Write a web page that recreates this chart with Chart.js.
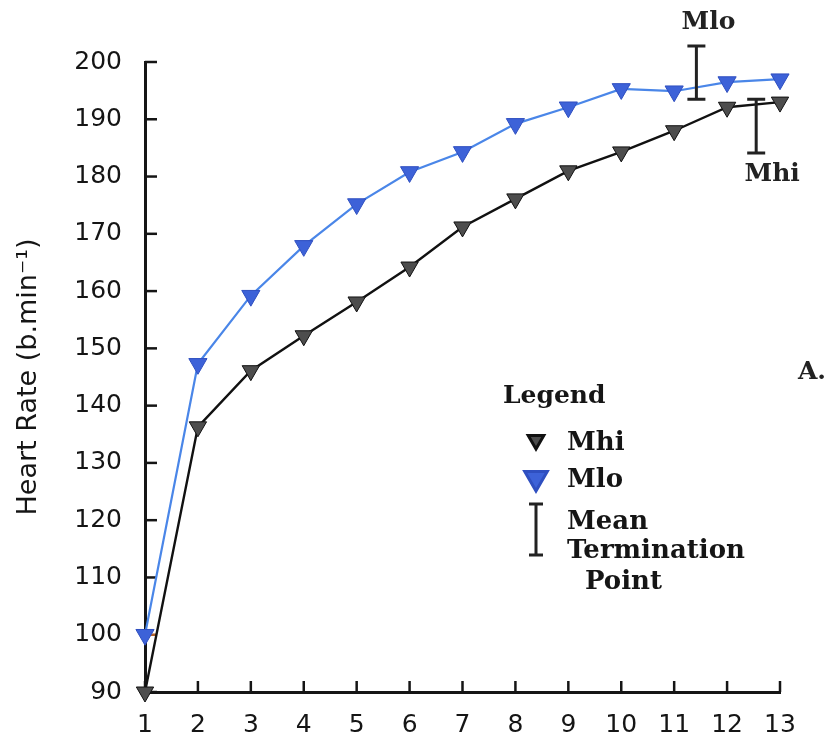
<!DOCTYPE html>
<html>
<head>
<meta charset="utf-8">
<script src="https://cdn.jsdelivr.net/npm/chart.js@4.4.0/dist/chart.umd.min.js"></script>
<style>
  html, body { margin: 0; background: #fff; }
  #wrap { width: 830px; height: 740px; position: relative; }
</style>
</head>
<body>
<div id="wrap"><canvas id="hrChart"></canvas></div>
<script>
(function () {
  'use strict';

  // stage number on the x axis
  var stages = [1, 2, 3, 4, 5, 6, 7, 8, 9, 10, 11, 12, 13];
  var mhi = [90, 136.3, 146.1, 152.2, 158.1, 164.2, 171.2, 176.1, 181, 184.3, 188, 192.1, 193];
  var mlo = [100, 147.3, 159.2, 167.9, 175.2, 180.8, 184.3, 189.2, 192.1, 195.3, 194.9, 196.5, 197];
  var yTicks = [90, 100, 110, 120, 130, 140, 150, 160, 170, 180, 190, 200];

  // mean termination point bars
  var termLabels = ['Mlo', 'Mhi'];
  var termX = [11.42, 12.55];
  var termLow = [193.5, 184.1];
  var termHigh = [202.8, 193.5];

  var ink = '#151515';
  var blueLine = '#4a86e8';
  var blueMark = '#3d62d8';
  var grayMark = '#4d4d4d';
  var serif = "bold 25px 'DejaVu Serif', serif";
  var sans = "'DejaVu Sans', sans-serif";

  function pairs(xs, ys) {
    return xs.map(function (x, i) { return { x: x, y: ys[i] }; });
  }

  function ibar(ctx, x, yTop, yBot, half) {
    ctx.beginPath();
    ctx.moveTo(x, yTop); ctx.lineTo(x, yBot);
    ctx.moveTo(x - half, yTop); ctx.lineTo(x + half, yTop);
    ctx.moveTo(x - half, yBot); ctx.lineTo(x + half, yBot);
    ctx.stroke();
  }

  var decor = {
    id: 'decor',
    beforeDatasetsDraw: function (chart) {
      var ctx = chart.ctx, xs = chart.scales.x, ys = chart.scales.y;
      ctx.save();
      ctx.lineWidth = 2.5;
      yTicks.forEach(function (v) {
        var py = ys.getPixelForValue(v);
        ctx.strokeStyle = v === 100 ? '#b0602a' : ink;
        ctx.beginPath();
        ctx.moveTo(xs.left, py);
        ctx.lineTo(xs.left + 12, py);
        ctx.stroke();
      });
      ctx.strokeStyle = ink;
      stages.forEach(function (v) {
        var px = xs.getPixelForValue(v);
        ctx.beginPath();
        ctx.moveTo(px, ys.bottom);
        ctx.lineTo(px, ys.bottom - 11);
        ctx.stroke();
      });
      ctx.restore();
    },
    afterDraw: function (chart) {
      var ctx = chart.ctx, xs = chart.scales.x, ys = chart.scales.y;
      var dp = Chart.helpers.drawPoint;
      ctx.save();

      // termination bars and their labels
      ctx.strokeStyle = '#222';
      ctx.lineWidth = 3;
      ctx.fillStyle = '#222';
      ctx.font = serif;
      ctx.textAlign = 'center';
      ctx.textBaseline = 'middle';
      termX.forEach(function (v, i) {
        var px = xs.getPixelForValue(v);
        var top = ys.getPixelForValue(termHigh[i]);
        var bot = ys.getPixelForValue(termLow[i]);
        ibar(ctx, px, top, bot, 9);
        if (i === 0) {
          ctx.fillText(termLabels[i], px + 12, top - 23);
        } else {
          ctx.fillText(termLabels[i], px + 16, bot + 21);
        }
      });

      // panel letter
      ctx.fillText('A.', 812, 372);

      // legend block
      ctx.textAlign = 'left';
      ctx.fillStyle = ink;
      ctx.fillText('Legend', 503, 396);

      ctx.fillStyle = grayMark;
      ctx.strokeStyle = '#111';
      dp(ctx, { pointStyle: 'triangle', rotation: 180, radius: 9, borderWidth: 1 }, 536, 440);
      ctx.fillStyle = blueMark;
      ctx.strokeStyle = '#2f4fc0';
      dp(ctx, { pointStyle: 'triangle', rotation: 180, radius: 13, borderWidth: 1 }, 536, 478);

      ctx.strokeStyle = '#222';
      ctx.lineWidth = 3;
      ibar(ctx, 536, 504, 555, 7);

      ctx.fillStyle = ink;
      ctx.font = "bold 26px 'DejaVu Serif', serif";
      ctx.fillText('Mhi', 567, 443);
      ctx.fillText('Mlo', 567, 480);
      ctx.fillText('Mean', 567, 522);
      ctx.fillText('Termination', 567, 551);
      ctx.fillText('Point', 585, 582);

      ctx.restore();
    }
  };

  new Chart(document.getElementById('hrChart'), {
    type: 'line',
    data: {
      datasets: [
        {
          label: 'Mlo',
          data: pairs(stages, mlo),
          borderColor: blueLine,
          borderWidth: 2.2,
          pointStyle: 'triangle',
          rotation: 180,
          pointRadius: 10.5,
          pointBackgroundColor: blueMark,
          pointBorderColor: '#2f4fc0',
          pointBorderWidth: 1,
          tension: 0,
          clip: false
        },
        {
          label: 'Mhi',
          data: pairs(stages, mhi),
          borderColor: '#111',
          borderWidth: 2.4,
          pointStyle: 'triangle',
          rotation: 180,
          pointRadius: 10,
          pointBackgroundColor: grayMark,
          pointBorderColor: '#111',
          pointBorderWidth: 1,
          tension: 0,
          clip: false
        }
      ]
    },
    options: {
      responsive: true,
      maintainAspectRatio: false,
      animation: false,
      layout: { padding: { top: 62, right: 50, left: 0, bottom: 0 } },
      plugins: {
        legend: { display: false },
        tooltip: { enabled: false }
      },
      scales: {
        x: {
          type: 'linear',
          min: 1,
          max: 13,
          grid: { display: false },
          border: { display: true, color: ink, width: 3 },
          ticks: {
            stepSize: 1,
            padding: 10,
            color: ink,
            font: { family: sans, size: 25 }
          },
          afterFit: function (s) { s.height = 48; }
        },
        y: {
          min: 90,
          max: 200,
          grid: { display: false },
          border: { display: true, color: ink, width: 3 },
          ticks: {
            stepSize: 10,
            padding: 15,
            color: ink,
            font: { family: sans, size: 25 }
          },
          title: {
            display: true,
            text: 'Heart Rate (b.min\u207B\u00B9)',
            color: ink,
            padding: { top: 13, bottom: 0 },
            font: { family: sans, size: 27 }
          },
          afterFit: function (s) { s.width = 145; }
        }
      }
    },
    plugins: [decor]
  });
})();
</script>
</body>
</html>
